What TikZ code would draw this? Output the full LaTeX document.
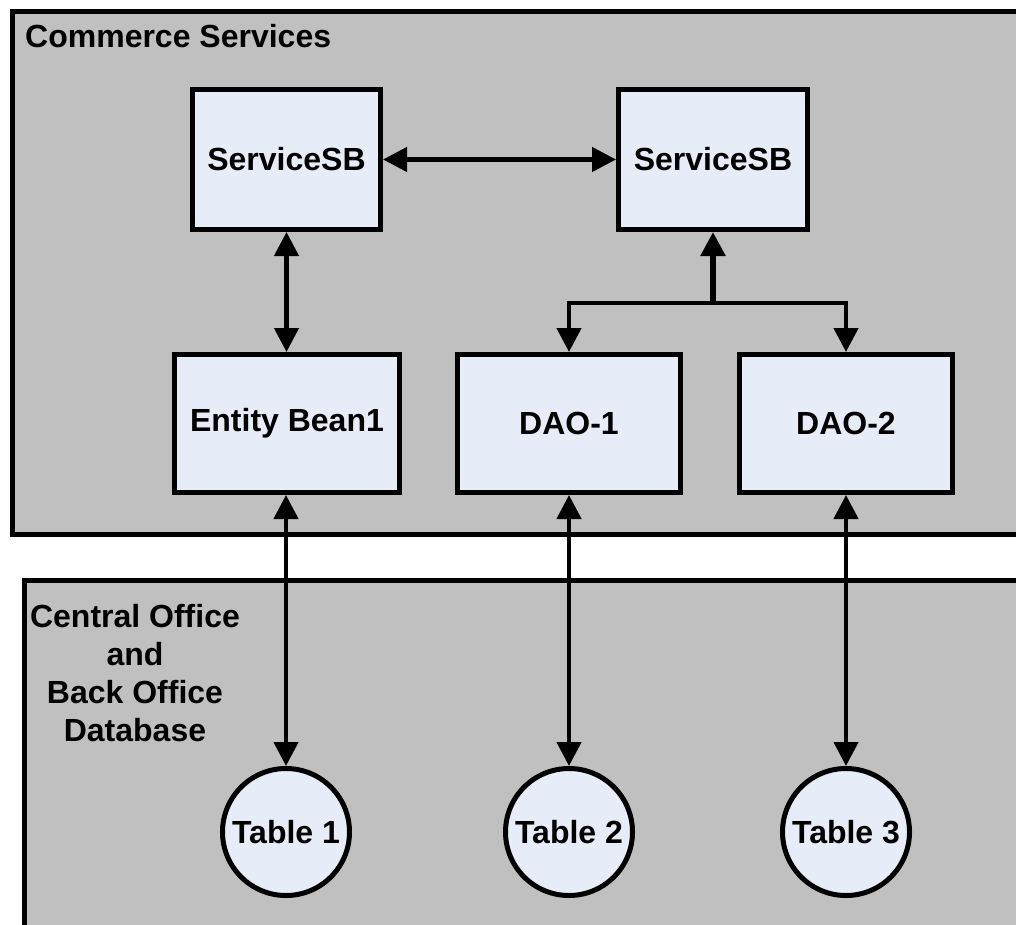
\documentclass[tikz,border=0pt]{standalone}
\usepackage{fontspec}
\setmainfont{Liberation Sans}
\usetikzlibrary{arrows.meta}
\definecolor{panelgray}{RGB}{192,192,192}
\definecolor{boxfill}{RGB}{230,236,248}

\begin{document}
\begin{tikzpicture}[x=1pt,y=-1pt,
  panel/.style={draw=black, line width=5pt, fill=panelgray},
  lbl/.style={font=\bfseries\fontsize{32}{38}\selectfont, inner sep=0pt},
  compbox/.style={draw=black, line width=5pt, fill=boxfill, inner sep=0pt,
    font=\bfseries\fontsize{32}{38}\selectfont},
  tablenode/.style={circle, draw=black, line width=5pt, fill=boxfill,
    minimum size=127pt, inner sep=0pt, font=\bfseries\fontsize{32}{38}\selectfont},
  link/.style={line width=4.5pt, {Triangle[length=24pt,width=24pt]}-{Triangle[length=24pt,width=24pt]}},
  feed/.style={line width=4.5pt, -{Triangle[length=24pt,width=24pt]}}
]
\useasboundingbox (0,0) rectangle (1016,925);
\clip (0,0) rectangle (1016,925);
\fill[white] (0,0) rectangle (1016,925);

% the two layers
\draw[panel] (12.5,11.5) rectangle (1040,534.5);
\draw[panel] (24.5,580.5) rectangle (1040,945);

\node[lbl, anchor=base west] (commerce) at (25,48) {Commerce Services};
\node[lbl, align=center] (database) at (135,673) {Central Office\\and\\Back Office\\Database};

% service beans
\node[compbox, minimum width=188pt, minimum height=140pt] (sb1) at (286.5,159.5) {ServiceSB};
\node[compbox, minimum width=189pt, minimum height=140pt] (sb2) at (713,159.5) {ServiceSB};

% data access layer
\node[compbox, minimum width=225pt, minimum height=138pt] (bean) at (287,423.5) {Entity Bean1};
\node[compbox, minimum width=223pt, minimum height=138pt] (dao1) at (569,423.5) {DAO-1};
\node[compbox, minimum width=213pt, minimum height=138pt] (dao2) at (846,423.5) {DAO-2};

% database tables
\node[tablenode] (t1) at (286,832) {Table 1};
\node[tablenode] (t2) at (569,832) {Table 2};
\node[tablenode] (t3) at (846,832) {Table 3};

\coordinate (fork) at (713,303);

% connectors
\draw[link] (sb1.east) -- (sb2.west);
\draw[link] (sb1.south) -- (sb1.south |- bean.north);
\draw[feed, line width=5.5pt] (fork) -- (sb2.south);
\draw[feed] (fork) -| (dao1.north);
\draw[feed] (fork) -| (dao2.north);
\draw[link] (bean.south -| t1) -- (t1.north);
\draw[link] (dao1.south) -- (t2.north);
\draw[link] (dao2.south) -- (t3.north);
\end{tikzpicture}
\end{document}
